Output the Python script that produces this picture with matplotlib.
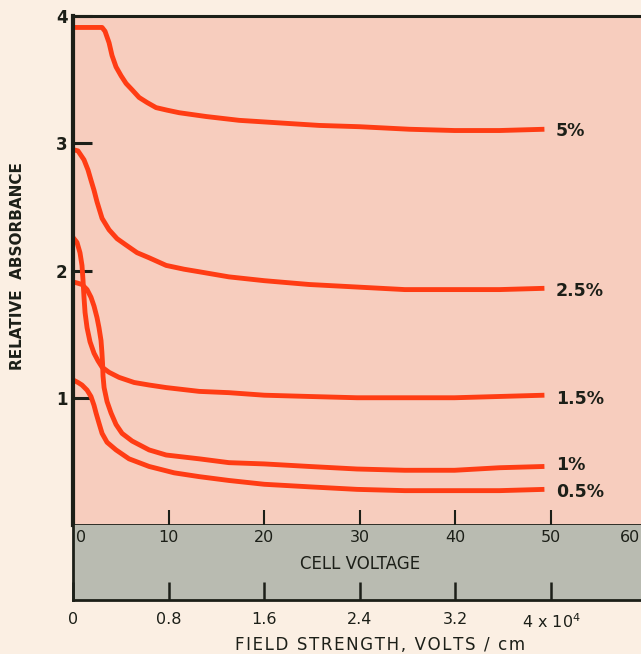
import matplotlib.pyplot as plt
from matplotlib import transforms

# concentration curves, cell voltage (V) vs relative absorbance
v_5 = [0, 3.04, 3.35, 3.77, 4.08, 4.5, 5.03, 5.55, 6.18, 6.91, 7.75, 8.69, 9.84, 11.1, 13.93,
       17.38, 21.57, 25.76, 29.95, 35.18, 39.9, 44.6, 49.3]
a_5 = [3.91, 3.91, 3.88, 3.79, 3.69, 3.60, 3.53, 3.47, 3.42, 3.36, 3.32, 3.28, 3.26, 3.24, 3.21,
       3.18, 3.16, 3.14, 3.13, 3.11, 3.10, 3.10, 3.11]

v_25 = [0, 0.52, 1.15, 1.57, 1.88, 2.2, 2.51, 3.04, 3.77, 4.61, 5.55, 6.7, 7.96, 9.74, 11.62,
        13.2, 16.3, 20.0, 24.7, 29.7, 34.7, 39.9, 44.6, 49.3]
a_25 = [2.95, 2.94, 2.87, 2.79, 2.71, 2.63, 2.54, 2.41, 2.32, 2.25, 2.20, 2.14, 2.10, 2.04, 2.01,
        1.99, 1.95, 1.92, 1.89, 1.87, 1.85, 1.85, 1.85, 1.86]

v_15 = [0, 0.42, 0.73, 0.94, 1.05, 1.15, 1.26, 1.47, 1.78, 2.2, 2.62, 3.04, 3.77, 4.82, 6.39,
        7.96, 9.74, 13.2, 16.3, 20.0, 24.7, 29.7, 34.7, 39.9, 44.6, 49.3]
a_15 = [2.26, 2.22, 2.14, 2.04, 1.92, 1.79, 1.67, 1.55, 1.44, 1.35, 1.29, 1.24, 1.20, 1.16, 1.12,
        1.10, 1.08, 1.05, 1.04, 1.02, 1.01, 1.00, 1.00, 1.00, 1.01, 1.02]

v_1 = [0, 0.52, 0.94, 1.47, 1.88, 2.2, 2.51, 2.72, 2.93, 3.02, 3.09, 3.14, 3.25, 3.56, 3.98,
       4.5, 5.13, 6.18, 7.96, 9.74, 13.2, 16.3, 20.0, 24.7, 29.7, 34.7, 39.9, 44.6, 49.3]
a_1 = [1.91, 1.90, 1.89, 1.85, 1.79, 1.72, 1.63, 1.55, 1.45, 1.36, 1.27, 1.17, 1.08, 0.97, 0.88,
       0.79, 0.72, 0.66, 0.59, 0.55, 0.52, 0.49, 0.48, 0.46, 0.44, 0.43, 0.43, 0.45, 0.46]

v_05 = [0, 0.52, 0.94, 1.47, 1.88, 2.2, 2.41, 2.72, 3.04, 3.56, 4.5, 5.86, 7.96, 10.58, 13.2,
        16.3, 20.0, 24.7, 29.7, 34.7, 39.9, 44.6, 49.3]
a_05 = [1.14, 1.12, 1.10, 1.06, 1.01, 0.94, 0.88, 0.80, 0.72, 0.65, 0.59, 0.52, 0.46, 0.41, 0.38,
        0.35, 0.32, 0.30, 0.28, 0.27, 0.27, 0.27, 0.28]

curves = [(v_5, a_5, "5%"), (v_25, a_25, "2.5%"), (v_15, a_15, "1.5%"),
          (v_1, a_1, "1%"), (v_05, a_05, "0.5%")]
label_y = [3.10, 1.84, 0.99, 0.47, 0.26]

volt_ticks = [0, 10, 20, 30, 40, 50]
volt_labels = ["0", "10", "20", "30", "40", "50"]
field_labels = ["0", "0.8", "1.6", "2.4", "3.2", r"4 x 10$^4$"]

cream = "#fbefe3"
pink = "#f7cdbe"
grey = "#b9bbb1"
red = "#ff3c14"
ink = "#1c1f18"

fig = plt.figure(figsize=(6.41, 6.54), dpi=100, facecolor=cream)

ax = fig.add_axes([73 / 641, 1 - 525 / 654, 1 - 73 / 641, 509 / 654])
ax.set_facecolor(pink)
for v, a, lab in curves:
    ax.plot(v, a, color=red, lw=3.5, solid_capstyle="butt", solid_joinstyle="round")
for (v, a, lab), ly in zip(curves, label_y):
    ax.text(v[-1] + 1.2, ly, lab, fontsize=12.5, fontweight="bold", color=ink, va="center")

ax.set_xlim(0, 59.4)
ax.set_ylim(0, 4)
ax.set_yticks([1, 2, 3, 4])
ax.set_yticklabels(["1", "2", "3", "4"], fontsize=12, fontweight="bold", color=ink)
ax.set_xticks([10, 20, 30, 40, 50])
ax.tick_params(axis="y", direction="in", length=14, width=2.2, pad=4, color=ink)
ax.tick_params(axis="x", direction="in", length=11, width=1.5, labelbottom=False, color=ink)
ax.spines["right"].set_visible(False)
ax.spines["left"].set_linewidth(3)
ax.spines["top"].set_linewidth(2.2)
ax.spines["bottom"].set_linewidth(2)
for s in ["left", "top", "bottom"]:
    ax.spines[s].set_color(ink)

# grey band with cell voltage scale
ax2 = fig.add_axes([73 / 641, 1 - 600 / 654, 1 - 73 / 641, 75 / 654])
ax2.set_facecolor(grey)
ax2.set_xlim(0, 59.4)
ax2.set_ylim(0, 1)
ax2.set_yticks([])
ax2.set_xticks(volt_ticks)
ax2.set_xticklabels(field_labels, fontsize=11.5, color=ink)
ax2.tick_params(axis="x", direction="in", length=13, width=1.8, pad=8.5, color=ink)
ax2.spines["right"].set_visible(False)
ax2.spines["top"].set_visible(False)
ax2.spines["left"].set_linewidth(2)
ax2.spines["bottom"].set_linewidth(2)
ax2.spines["left"].set_color(ink)
ax2.spines["bottom"].set_color(ink)
trans = transforms.blended_transform_factory(ax2.transData, ax2.transAxes)
for v, lab in zip(volt_ticks, volt_labels):
    ax2.text(v + (0.8 if v == 0 else 0), 0.83, lab, transform=trans, ha="center", va="center",
             fontsize=11.5, color=ink)
ax2.text(59.3, 0.83, "60", transform=trans, ha="right", va="center", fontsize=11.5, color=ink)
ax2.text(30, 0.48, "CELL VOLTAGE", transform=trans, ha="center", va="center",
         fontsize=12, color=ink)

title = "\u200a".join("FIELD STRENGTH, VOLTS / cm")
fig.text(380 / 641, 1 - 645 / 654, title, ha="center", va="center", fontsize=12, color=ink)
fig.text(18 / 641, 1 - 266 / 654, "RELATIVE  ABSORBANCE", rotation=90, ha="center", va="center",
         fontsize=11, fontweight="bold", color=ink)

fig.savefig("out.png", dpi=100, facecolor=cream)
